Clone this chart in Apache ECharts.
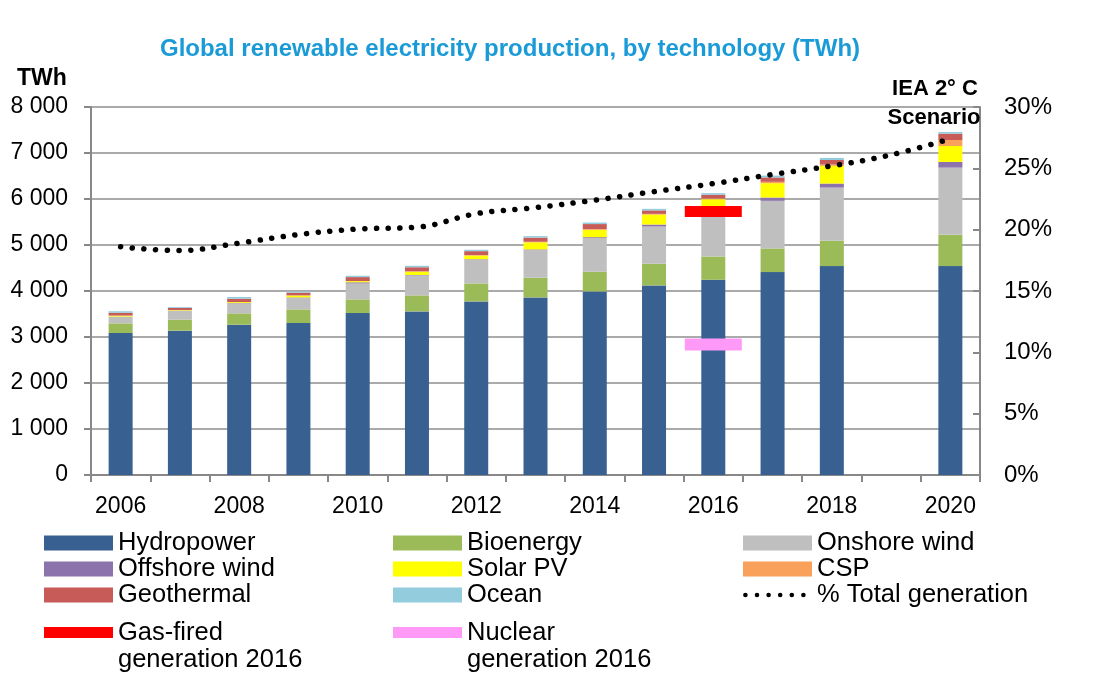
<!DOCTYPE html>
<html>
<head>
<meta charset="utf-8">
<script src="https://cdn.jsdelivr.net/npm/echarts@6/dist/echarts.min.js"></script>
<style>
html,body{margin:0;padding:0;background:#fff;}
#chart{width:1116px;height:681px;}
</style>
</head>
<body>
<div id="chart"></div>
<script>
var years = ['2006','2007','2008','2009','2010','2011','2012','2013','2014','2015','2016','2017','2018','2019','2020'];
var hydropower   = [3087,3137,3267,3304,3521,3557,3774,3861,3991,4121,4244,4411,4541,'-',4541];
var bioenergy    = [209,239,246,296,296,347,390,427,427,471,506,514,550,'-',680];
var onshoreWind  = [145,195,217,254,347,434,515,601,732,810,950,1035,1158,'-',1462];
var offshoreWind = [3,4,8,8,25,10,12,15,20,43,55,72,87,'-',123];
var solarPV      = [20,10,20,40,25,72,80,155,160,217,240,312,384,'-',347];
var csp          = [2,2,3,3,3,8,10,12,15,15,15,30,30,'-',130];
var geothermal   = [60,45,72,60,85,88,85,90,110,75,82,95,98,'-',137];
var ocean        = [34,19,36,25,29,32,30,32,34,34,35,40,45,'-',37];
var pctTotal     = [18.6,18.3,18.9,19.6,20.05,20.2,21.3,21.8,22.4,23.1,23.75,24.5,25.2,26.1,27.4];
var gasFired2016 = ['-','-','-','-','-','-','-','-','-','-',5730,'-','-','-','-'];
var nuclear2016  = ['-','-','-','-','-','-','-','-','-','-',2836,'-','-','-','-'];
var leftTicks = {min:0, max:8000, interval:1000};
var rightTicks = {min:0, max:30, interval:5};

var FONT = 'Liberation Sans, Arial, sans-serif';
var chart = echarts.init(document.getElementById('chart'));

function barSeries(name, data, color) {
  return {name:name, type:'bar', stack:'total', data:data, barWidth:24,
    itemStyle:{color:color}, yAxisIndex:0, emphasis:{disabled:true}};
}
var legendText = {fontFamily:FONT, fontSize:25.5, color:'#000', lineHeight:26};
function colLegend(left, names) {
  return {orient:'vertical', left:left, top:530, padding:0, itemGap:0,
    itemWidth:69, itemHeight:15, icon:'rect', data:names, textStyle:legendText,
    selectedMode:false};
}
function markerLegend(left, name, h) {
  return {orient:'vertical', left:left, top:592, padding:0, itemGap:0,
    itemWidth:69, itemHeight:h, icon:'rect', data:[name], selectedMode:false,
    formatter:function(n){ return '\n' + n.replace(' generation','\ngeneration'); },
    textStyle:{fontFamily:FONT, fontSize:25.5, color:'#000', lineHeight:27}};
}
// dotted legend icon: 6 dots, bbox padded to 69x15
var dotIcon = 'path://M0,0L0,0M69,15L69,15';
for (var i = 0; i < 6; i++) {
  var cx = 2.4 + i * 11.6;
  dotIcon += 'M' + (cx - 2.3) + ',7.5a2.3,2.3 0 1,0 4.6,0a2.3,2.3 0 1,0 -4.6,0Z';
}

var option = {
  animation:false,
  backgroundColor:'#fff',
  title:[
    {text:'Global renewable electricity production, by technology (TWh)', left:510, top:37, padding:0, textAlign:'center',
      textStyle:{fontFamily:FONT, fontSize:24, fontWeight:'bold', color:'#1A9BD7'}},
    {text:'TWh', left:17, top:67, padding:0, textStyle:{fontFamily:FONT, fontSize:23, fontWeight:'bold', color:'#000'}},
    {text:'IEA 2° C', left:935, top:78, padding:0, textAlign:'center', textStyle:{fontFamily:FONT, fontSize:22, fontWeight:'bold', color:'#000'}},
    {text:'Scenario', left:934, top:107, padding:0, textAlign:'center', textStyle:{fontFamily:FONT, fontSize:22, fontWeight:'bold', color:'#000'}}
  ],
  legend:[
    colLegend(44, ['Hydropower','Offshore wind','Geothermal']),
    colLegend(393, ['Bioenergy','Solar PV','Ocean']),
    colLegend(743, ['Onshore wind','CSP',
      {name:'% Total generation', icon:dotIcon, itemStyle:{color:'#000'}}]),
    markerLegend(44, 'Gas-fired generation 2016', 11),
    markerLegend(393, 'Nuclear generation 2016', 11)
  ],
  grid:{left:91, right:136, top:107, bottom:206, containLabel:false},
  xAxis:{type:'category', data:years, boundaryGap:true,
    axisLine:{lineStyle:{color:'#888', width:2}},
    axisTick:{show:true, interval:0, length:7, lineStyle:{color:'#888', width:2}},
    axisLabel:{interval:1, fontFamily:FONT, fontSize:23, color:'#000', margin:20},
    splitLine:{show:false}},
  yAxis:[
    {type:'value', min:leftTicks.min, max:leftTicks.max, interval:leftTicks.interval, position:'left',
      axisLine:{show:true, lineStyle:{color:'#888', width:2}},
      axisTick:{show:true, length:7, lineStyle:{color:'#888', width:2}},
      axisLabel:{fontFamily:FONT, fontSize:23, color:'#000', margin:23,
        formatter:function(v){ return v >= 1000 ? Math.floor(v/1000) + ' ' + String(v%1000).padStart(3,'0') : String(v); }},
      splitLine:{show:true, lineStyle:{color:'#AAAAAA', width:2}}},
    {type:'value', min:rightTicks.min, max:rightTicks.max, interval:rightTicks.interval, position:'right',
      axisLine:{show:true, lineStyle:{color:'#888', width:2}},
      axisTick:{show:true, inside:true, length:7, lineStyle:{color:'#888', width:2}},
      axisLabel:{fontFamily:FONT, fontSize:24, color:'#000', margin:24, formatter:'{value}%'},
      splitLine:{show:false}}
  ],
  series:[
    barSeries('Hydropower', hydropower, '#386192'),
    barSeries('Bioenergy', bioenergy, '#9BBB59'),
    barSeries('Onshore wind', onshoreWind, '#BFBFBF'),
    barSeries('Offshore wind', offshoreWind, '#8C73AC'),
    barSeries('Solar PV', solarPV, '#FFFF00'),
    barSeries('CSP', csp, '#F9A05A'),
    barSeries('Geothermal', geothermal, '#C65B57'),
    barSeries('Ocean', ocean, '#93CDDD'),
    {name:'% Total generation', type:'line', yAxisIndex:1, data:pctTotal, smooth:0.4,
      symbol:'none', z:5, emphasis:{disabled:true}, itemStyle:{color:'#000'},
      lineStyle:{color:'#000', width:5.5, type:[0.1,11.6], cap:'round'}},
    {name:'Gas-fired generation 2016', type:'scatter', yAxisIndex:0, data:gasFired2016,
      symbol:'rect', symbolSize:[57,11], z:6, itemStyle:{color:'#FF0000', opacity:1}, emphasis:{disabled:true}},
    {name:'Nuclear generation 2016', type:'scatter', yAxisIndex:0, data:nuclear2016,
      symbol:'rect', symbolSize:[57,12], z:6, itemStyle:{color:'#FF99F8', opacity:1}, emphasis:{disabled:true}}
  ]
};
chart.setOption(option);
</script>
</body>
</html>
